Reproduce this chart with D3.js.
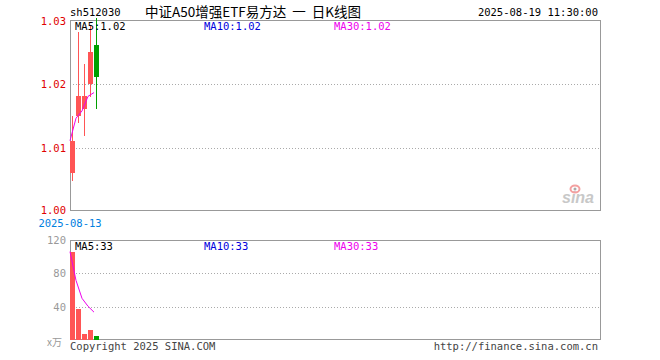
<!DOCTYPE html>
<html><head><meta charset="utf-8">
<script src="https://cdn.jsdelivr.net/npm/d3@7"></script>
<style>body{margin:0;background:#fff}svg{display:block}text{font-family:"DejaVu Sans Mono",monospace}</style>
</head><body><svg id="c" width="660" height="360"></svg>
<script>
const code = "sh512030";
const title = "中证A50增强ETF易方达  一  日K线图";
const stamp = "2025-08-19 11:30:00";
const firstDate = "2025-08-13";
const opens  = [1.0060, 1.0150, 1.0161, 1.0201, 1.0262];
const highs  = [1.0150, 1.0283, 1.0232, 1.0294, 1.0305];
const lows   = [1.0047, 1.0139, 1.0118, 1.0180, 1.0161];
const closes = [1.0111, 1.0182, 1.0182, 1.0251, 1.0212];
const priceMA = [1.0111, 1.01465, 1.0158, 1.0181, 1.0187];
const volumes = [106, 37, 7, 12, 5];
const volMA = [106, 71.5, 50, 40.5, 33.4];
const priceTicks = [1.00, 1.01, 1.02, 1.03];
const volTicks = [40, 80, 120];
const maPriceLabels = ["MA5:1.02", "MA10:1.02", "MA30:1.02"];
const maVolLabels = ["MA5:33", "MA10:33", "MA30:33"];
const maColors = ["#000000", "#0000dd", "#ee00ee"];

const svg = d3.select("#c");
const L = 70, R = 600, slots = 88;
const x = d3.scaleLinear().domain([0, slots]).range([L, L + slots * 6]);
const bw = 5;
const yP = d3.scaleLinear().domain([1.00, 1.03]).range([211, 21]);
const yV = d3.scaleLinear().domain([0, 120]).range([340, 240]);
const up = "#ff5555", down = "#00a000";
const idx = d3.range(opens.length);
const FS = 10.5;

// header
svg.append("text").attr("x", 70).attr("y", 16).attr("font-size", FS).attr("fill", "#000").text(code);
svg.append("text").attr("x", 253).attr("y", 17).attr("text-anchor", "middle").attr("font-size", 13.5)
  .style("font-family", "'Noto Sans CJK SC',sans-serif").style("white-space", "pre").attr("fill", "#000").text(title);
svg.append("text").attr("x", 598).attr("y", 16).attr("text-anchor", "end").attr("font-size", FS).attr("fill", "#000").text(stamp);

// grids
function dotted(y, x0, x1) {
  svg.append("line").attr("x1", x0).attr("x2", x1).attr("y1", y).attr("y2", y)
    .attr("stroke", "#aaa").attr("stroke-dasharray", "1,2").attr("shape-rendering", "crispEdges");
}
[1.01, 1.02].forEach(v => dotted(Math.round(yP(v)) + 0.5, L, R));
[40, 80].forEach(v => dotted(Math.round(yV(v)) + 0.5, L, R));

// frames
svg.append("rect").attr("x", 70.5).attr("y", 20.5).attr("width", R - L).attr("height", 190)
  .attr("fill", "none").attr("stroke", "#999").attr("stroke-width", 1);
svg.append("rect").attr("x", 70.5).attr("y", 240.5).attr("width", R - L).attr("height", 99)
  .attr("fill", "none").attr("stroke", "#999").attr("stroke-width", 1);

// price axis labels
svg.selectAll(".pt").data(priceTicks).enter().append("text")
  .attr("x", 66).attr("y", d => Math.min(yP(d) + 4, 213.5)).attr("text-anchor", "end").attr("font-size", FS)
  .attr("fill", "#e00000").text(d => d.toFixed(2));
svg.append("text").attr("x", 70).attr("y", 227).attr("text-anchor", "middle").attr("font-size", FS)
  .attr("fill", "#0080e0").text(firstDate);

// volume axis labels
svg.selectAll(".vt").data(volTicks).enter().append("text")
  .attr("x", 66).attr("y", d => yV(d) + 4).attr("text-anchor", "end").attr("font-size", FS)
  .attr("fill", "#999").text(d => d);
svg.append("text").attr("x", 62).attr("y", 346).attr("text-anchor", "end").attr("font-size", 10)
  .style("font-family", "'Noto Sans CJK SC',sans-serif").attr("fill", "#999").text("x万");

// sina logo
const lg = svg.append("g").attr("transform", "translate(578,203)");
lg.append("text").attr("x", 0).attr("y", 0).attr("text-anchor", "middle").attr("font-size", 16)
  .attr("font-style", "italic").attr("font-weight", "bold").style("font-family", "Arial,'Liberation Sans',sans-serif")
  .attr("fill", "#c8c8c8").text("sina");
lg.append("ellipse").attr("cx", -3).attr("cy", -14).attr("rx", 4.5).attr("ry", 3.5).attr("fill", "none")
  .attr("stroke", "#f4a0a0").attr("stroke-width", 2);
lg.append("circle").attr("cx", -3).attr("cy", -14).attr("r", 1.5).attr("fill", "#aaa");

// candles
const cg = svg.append("g");
cg.selectAll(".w").data(idx).enter().append("line")
  .attr("x1", i => x(i) + 2.5).attr("x2", i => x(i) + 2.5)
  .attr("y1", i => yP(highs[i])).attr("y2", i => yP(lows[i]))
  .attr("stroke", i => closes[i] >= opens[i] ? up : down).attr("stroke-width", 1).attr("shape-rendering", "crispEdges");
cg.selectAll(".b").data(idx).enter().append("rect")
  .attr("x", i => x(i)).attr("width", bw)
  .attr("y", i => yP(Math.max(opens[i], closes[i])))
  .attr("height", i => Math.max(1, Math.abs(yP(opens[i]) - yP(closes[i]))))
  .attr("fill", i => closes[i] >= opens[i] ? up : down).attr("shape-rendering", "crispEdges");

svg.append("path").datum(idx).attr("fill", "none").attr("stroke", "#ee00ee").attr("stroke-width", 1)
  .attr("d", d3.line().x(i => x(i)).y(i => yP(priceMA[i])));

// volume bars
svg.selectAll(".vb").data(idx).enter().append("rect")
  .attr("x", i => x(i)).attr("width", bw)
  .attr("y", i => yV(volumes[i])).attr("height", i => yV(0) - yV(volumes[i]))
  .attr("fill", i => closes[i] >= opens[i] ? up : down).attr("shape-rendering", "crispEdges");
svg.append("path").datum(idx).attr("fill", "none").attr("stroke", "#ee00ee").attr("stroke-width", 1)
  .attr("d", d3.line().x(i => x(i)).y(i => yV(volMA[i])));

// MA labels
const mx = [75, 204, 334];
maPriceLabels.forEach((t, k) => svg.append("text").attr("x", mx[k]).attr("y", 30).attr("font-size", FS)
  .attr("fill", maColors[k]).text(t));
maVolLabels.forEach((t, k) => svg.append("text").attr("x", mx[k]).attr("y", 250).attr("font-size", FS)
  .attr("fill", maColors[k]).text(t));

// footer
svg.append("text").attr("x", 70).attr("y", 350).attr("font-size", FS).attr("fill", "#444").text("Copyright 2025 SINA.COM");
svg.append("text").attr("x", 598).attr("y", 350).attr("text-anchor", "end").attr("font-size", FS).attr("fill", "#444").text("http://finance.sina.com.cn");
</script></body></html>
